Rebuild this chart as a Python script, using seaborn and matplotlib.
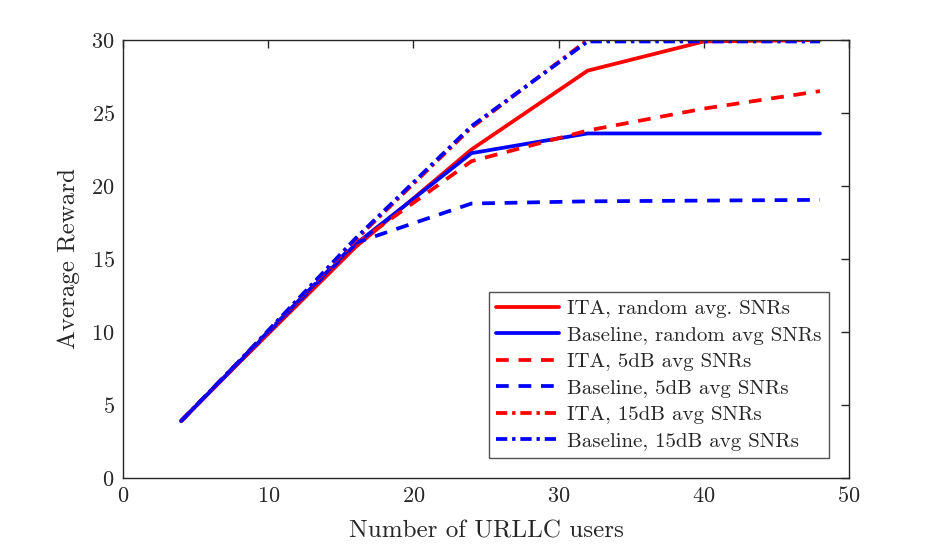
import matplotlib
matplotlib.use("Agg")
import matplotlib.pyplot as plt
import seaborn as sns
import pandas as pd

users = [4, 8, 16, 24, 32, 40, 48]
ita_random = [3.9, 7.9, 15.8, 22.5, 27.9, 29.9, 30.0]
base_random = [3.9, 7.95, 16.0, 22.25, 23.6, 23.6, 23.6]
ita_5db = [3.9, 7.95, 16.0, 21.7, 23.8, 25.3, 26.5]
base_5db = [3.9, 8.0, 16.1, 18.8, 18.95, 19.0, 19.05]
ita_15db = [3.9, 8.0, 16.3, 24.0, 30.0, 30.0, 30.0]
base_15db = [3.9, 8.0, 16.4, 24.1, 29.9, 29.9, 29.9]

names = ["ITA, random avg. SNRs", "Baseline, random avg SNRs",
         "ITA, 5dB avg SNRs", "Baseline, 5dB avg SNRs",
         "ITA, 15dB avg SNRs", "Baseline, 15dB avg SNRs"]
series = [ita_random, base_random, ita_5db, base_5db, ita_15db, base_15db]

rows = []
for n, vals in zip(names, series):
    for x, y in zip(users, vals):
        rows.append({"Number of URLLC users": x, "Average Reward": y, "series": n})
df = pd.DataFrame(rows)

sns.set_theme(style="white")
plt.rcParams["font.family"] = ["cmr10", "DejaVu Serif"]
plt.rcParams["axes.formatter.use_mathtext"] = True
plt.rcParams["mathtext.fontset"] = "cm"

palette = {names[0]: "#ff0000", names[1]: "#0000ff", names[2]: "#ff0000",
           names[3]: "#0000ff", names[4]: "#ff0000", names[5]: "#0000ff"}
dashes = {names[0]: "", names[1]: "",
          names[2]: (3.4, 2.6), names[3]: (3.4, 2.6),
          names[4]: (3.0, 1.3, 0.9, 1.3), names[5]: (3.0, 1.3, 0.9, 1.3)}

fig = plt.figure(figsize=(9.38, 5.48), dpi=100)
ax = fig.add_axes([123 / 938, 1 - 478 / 548, (849 - 123) / 938, (478 - 40) / 548])

sns.lineplot(data=df, x="Number of URLLC users", y="Average Reward", hue="series",
             style="series", palette=palette, dashes=dashes, hue_order=names,
             style_order=names, linewidth=2.7, ax=ax, legend=True)

ax.set_xlim(0, 50)
ax.set_ylim(0, 30)
ax.set_xticks([0, 10, 20, 30, 40, 50])
ax.set_yticks([0, 5, 10, 15, 20, 25, 30])
edge = "#262626"
for s in ax.spines.values():
    s.set_visible(True)
    s.set_color(edge)
    s.set_linewidth(1.0)
ax.tick_params(direction="in", length=6, width=1.0, top=True, right=True,
               colors=edge, labelsize=16, pad=6)
ax.set_xlabel("Number of URLLC users", fontsize=18, color=edge, labelpad=10)
ax.set_ylabel("Average Reward", fontsize=18, color=edge, labelpad=8)

leg = ax.legend(loc="lower right", bbox_to_anchor=(0.9725, 0.046), fontsize=15,
                frameon=True, fancybox=False, handlelength=3.0, handletextpad=0.4,
                borderpad=0.35, labelspacing=0.38, borderaxespad=0)
leg.get_frame().set_edgecolor(edge)
leg.get_frame().set_linewidth(1.0)
for line in leg.get_lines():
    line.set_linewidth(2.7)

fig.savefig("out.png", dpi=100)
